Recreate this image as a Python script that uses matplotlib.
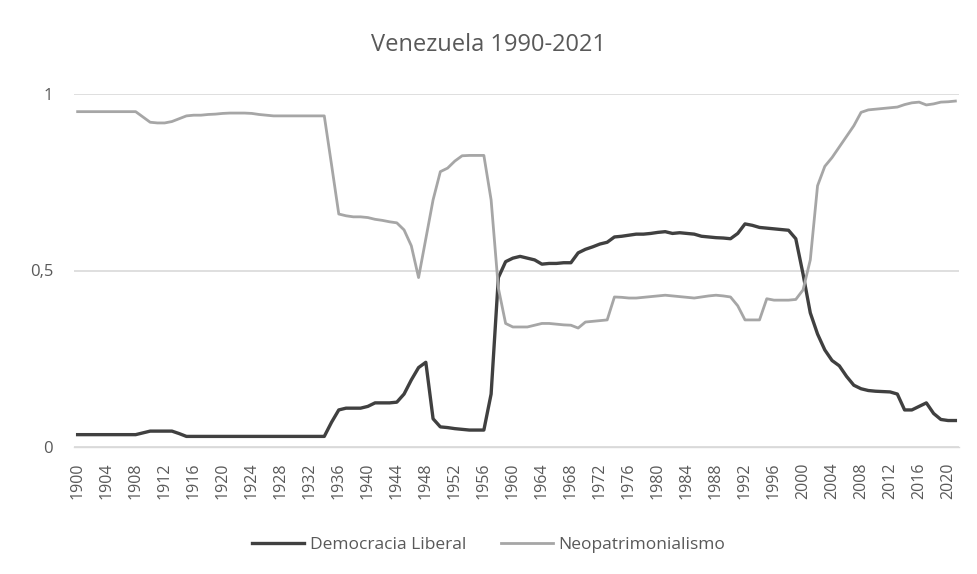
import matplotlib
matplotlib.use("Agg")
import matplotlib.pyplot as plt
import numpy as np

years = list(range(1900, 2022))

democracia_liberal = [
    # 1900-1909
    0.035, 0.035, 0.035, 0.035, 0.035, 0.035, 0.035, 0.035, 0.035, 0.040,
    # 1910-1919
    0.045, 0.045, 0.045, 0.045, 0.038, 0.030, 0.030, 0.030, 0.030, 0.030,
    # 1920-1929
    0.030, 0.030, 0.030, 0.030, 0.030, 0.030, 0.030, 0.030, 0.030, 0.030,
    # 1930-1939
    0.030, 0.030, 0.030, 0.030, 0.030, 0.070, 0.105, 0.110, 0.110, 0.110,
    # 1940-1949
    0.115, 0.125, 0.125, 0.125, 0.127, 0.150, 0.190, 0.225, 0.240, 0.080,
    # 1950-1959
    0.057, 0.055, 0.052, 0.050, 0.048, 0.048, 0.048, 0.150, 0.480, 0.525,
    # 1960-1969
    0.535, 0.540, 0.535, 0.530, 0.518, 0.520, 0.520, 0.522, 0.522, 0.550,
    # 1970-1979
    0.560, 0.567, 0.575, 0.580, 0.595, 0.597, 0.600, 0.603, 0.603, 0.605,
    # 1980-1989
    0.608, 0.610, 0.605, 0.607, 0.605, 0.603, 0.597, 0.595, 0.593, 0.592,
    # 1990-1999
    0.590, 0.605, 0.632, 0.628, 0.622, 0.620, 0.618, 0.616, 0.614, 0.590,
    # 2000-2009
    0.490, 0.380, 0.320, 0.275, 0.245, 0.230, 0.200, 0.175, 0.165, 0.160,
    # 2010-2019
    0.158, 0.157, 0.156, 0.150, 0.105, 0.105, 0.115, 0.125, 0.095, 0.078,
    # 2020-2021
    0.075, 0.075,
]

neopatrimonialismo = [
    # 1900-1909
    0.950, 0.950, 0.950, 0.950, 0.950, 0.950, 0.950, 0.950, 0.950, 0.935,
    # 1910-1919
    0.920, 0.918, 0.918, 0.922, 0.930, 0.938, 0.940, 0.940, 0.942, 0.943,
    # 1920-1929
    0.945, 0.946, 0.946, 0.946, 0.945, 0.942, 0.940, 0.938, 0.938, 0.938,
    # 1930-1939
    0.938, 0.938, 0.938, 0.938, 0.938, 0.800, 0.660, 0.655, 0.652, 0.652,
    # 1940-1949
    0.650, 0.645, 0.642, 0.638, 0.635, 0.615, 0.570, 0.480, 0.590, 0.700,
    # 1950-1959
    0.780, 0.790, 0.810, 0.825, 0.826, 0.826, 0.826, 0.700, 0.450, 0.350,
    # 1960-1969
    0.340, 0.340, 0.340, 0.345, 0.350, 0.350, 0.348, 0.346, 0.345, 0.337,
    # 1970-1979
    0.354, 0.356, 0.358, 0.360, 0.425, 0.424, 0.422, 0.422, 0.424, 0.426,
    # 1980-1989
    0.428, 0.430, 0.428, 0.426, 0.424, 0.422, 0.425, 0.428, 0.430, 0.428,
    # 1990-1999
    0.425, 0.400, 0.360, 0.360, 0.360, 0.420, 0.416, 0.416, 0.416, 0.418,
    # 2000-2009
    0.445, 0.530, 0.740, 0.795, 0.820, 0.850, 0.880, 0.910, 0.948, 0.955,
    # 2010-2019
    0.957, 0.959, 0.961, 0.963, 0.970, 0.975, 0.977, 0.969, 0.972, 0.977,
    # 2020-2021
    0.978, 0.980,
]

xtick_labels = [str(y) for y in range(1900, 2022, 4)]
ytick_values = [0, 0.5, 1]
ytick_labels = ["0", "0,5", "1"]

title = "Venezuela 1990-2021"
series_names = ["Democracia Liberal", "Neopatrimonialismo"]

plt.rcParams['font.family'] = ['Open Sans', 'DejaVu Sans']
text_color = "#595959"

fig = plt.figure(figsize=(9.77, 5.74), dpi=100)
ax = fig.add_axes([74 / 977, (574 - 447) / 574, (959 - 74) / 977, (447 - 94) / 574])

x = np.arange(len(years))
ax.plot(x, democracia_liberal, color="#404040", lw=2.4, label=series_names[0], solid_joinstyle="round")
ax.plot(x, neopatrimonialismo, color="#a6a6a6", lw=2.0, label=series_names[1], solid_joinstyle="round")

ax.set_xlim(-0.5, len(years) - 0.5)
ax.set_ylim(0, 1)

tick_pos = [years.index(int(l)) for l in xtick_labels]
ax.set_xticks(tick_pos)
ax.set_xticklabels(xtick_labels, rotation=90, fontsize=11.5, color=text_color)
ax.set_yticks(ytick_values)
ax.set_yticklabels(ytick_labels, fontsize=12, color=text_color)
ax.tick_params(axis="both", length=0)
ax.tick_params(axis="y", pad=15)
ax.tick_params(axis="x", pad=11)

ax.yaxis.grid(True, color="#d9d9d9", lw=1.2)
ax.set_axisbelow(True)
for s in ["top", "right", "left"]:
    ax.spines[s].set_visible(False)
ax.spines["bottom"].set_color("#d9d9d9")
ax.spines["bottom"].set_linewidth(1.0)

fig.text(0.5, 1 - 45 / 574, title, ha="center", va="center", fontsize=17, color=text_color)

leg = fig.legend(loc="center", bbox_to_anchor=(0.5, 1 - 545 / 574), ncol=2, frameon=False,
                 fontsize=12.5, handlelength=3.0, columnspacing=2.0, handletextpad=0.3)
for t in leg.get_texts():
    t.set_color(text_color)

fig.savefig("out.png", dpi=100, facecolor="white")
